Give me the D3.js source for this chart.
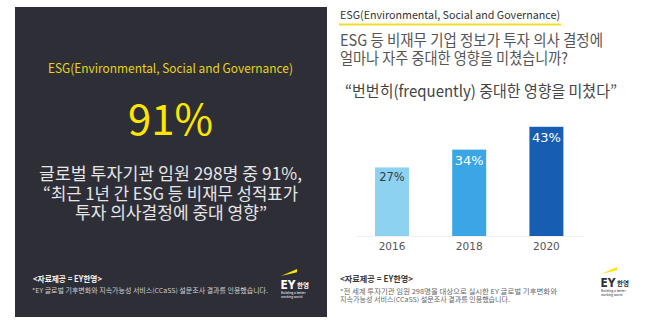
<!DOCTYPE html>
<html>
<head>
<meta charset="utf-8">
<script src="https://cdn.jsdelivr.net/npm/d3@7/dist/d3.min.js"></script>
<style>
  html, body { margin: 0; padding: 0; background: #ffffff; }
  svg { display: block; }
</style>
</head>
<body>
<svg id="chart" width="653" height="335"></svg>
<script>
// Survey data: share of investors saying non-financial (ESG) info "frequently" had a major impact
const years = ["2016", "2018", "2020"];
const shares = [27, 34, 43];
const barColors = ["#8dd2f1", "#3ba6e5", "#175db2"];
const labelColors = ["#3a3a44", "#ffffff", "#ffffff"];
const headline = 91;

const KR = "'Noto Sans CJK KR', 'Noto Sans', sans-serif";
const NUM = "'DejaVu Sans', Verdana, sans-serif";

const svg = d3.select("#chart");

// fit a text run to a set width
function fit(sel, w) {
  return sel.attr("textLength", w).attr("lengthAdjust", "spacingAndGlyphs");
}

// ---------- left panel: headline card ----------
const card = svg.append("g");
card.append("rect")
  .attr("x", 15).attr("y", 7).attr("width", 312).attr("height", 310)
  .attr("fill", "#2e2e37");

fit(card.append("text")
  .attr("x", 48).attr("y", 73)
  .attr("font-family", KR).attr("font-size", 12.5)
  .attr("fill", "#e8d31c")
  .text("ESG(Environmental, Social and Governance)"), 245);

fit(card.append("text")
  .attr("x", 128).attr("y", 135)
  .attr("font-family", KR).attr("font-size", 42)
  .attr("fill", "#ffe600")
  .text(headline + "%"), 85);

const bodyLines = [
  { t: "글로벌 투자기관 임원 298명 중 91%,", x: 39, w: 263 },
  { t: "“최근 1년 간 ESG 등 비재무 성적표가", x: 43, w: 255 },
  { t: "투자 의사결정에 중대 영향”", x: 75, w: 192 }
];
card.selectAll("text.body").data(bodyLines).join("text")
  .attr("class", "body")
  .attr("x", d => d.x)
  .attr("y", (d, i) => 180 + i * 19.5)
  .attr("font-family", KR).attr("font-size", 17)
  .attr("fill", "#e6e6e6")
  .attr("textLength", d => d.w).attr("lengthAdjust", "spacingAndGlyphs")
  .text(d => d.t);

fit(card.append("text")
  .attr("x", 33).attr("y", 282)
  .attr("font-family", KR).attr("font-size", 8.5).attr("font-weight", "bold")
  .attr("fill", "#f2f2f2")
  .text("<자료제공 = EY한영>"), 69);
fit(card.append("text")
  .attr("x", 32).attr("y", 292.5)
  .attr("font-family", KR).attr("font-size", 6.5)
  .attr("fill", "#d0d0d0")
  .text("*EY 글로벌 기후변화와 지속가능성 서비스(CCaSS) 설문조사 결과를 인용했습니다."), 236);

// EY logo mark
function eyLogo(g, x, y, ink) {
  g.append("path")
    .attr("d", `M${x} ${y + 7} L${x + 16} ${y} L${x + 16} ${y + 3.2} Z`)
    .attr("fill", "#ffe600");
  g.append("text")
    .attr("x", x - 0.5).attr("y", y + 19.5)
    .attr("font-family", "'DejaVu Sans', sans-serif").attr("font-weight", "bold")
    .attr("font-size", 12.5).attr("fill", ink)
    .attr("textLength", 15).attr("lengthAdjust", "spacingAndGlyphs")
    .text("EY");
  g.append("text")
    .attr("x", x + 16).attr("y", y + 18.5)
    .attr("font-family", KR).attr("font-weight", "bold")
    .attr("font-size", 6.5).attr("fill", ink)
    .text("한영");
  g.append("text")
    .attr("x", x).attr("y", y + 25)
    .attr("font-family", KR).attr("font-size", 3.2).attr("fill", ink)
    .text("Building a better");
  g.append("text")
    .attr("x", x).attr("y", y + 28.5)
    .attr("font-family", KR).attr("font-size", 3.2).attr("fill", ink)
    .text("working world");
}
eyLogo(card, 281, 269, "#ffffff");

// ---------- right panel: bar chart ----------
const right = svg.append("g");

fit(right.append("text")
  .attr("x", 340).attr("y", 19)
  .attr("font-family", KR).attr("font-size", 11)
  .attr("fill", "#333333")
  .text("ESG(Environmental, Social and Governance)"), 220);
right.append("line")
  .attr("x1", 339).attr("x2", 561).attr("y1", 24.5).attr("y2", 24.5)
  .attr("stroke", "#f2dd2a").attr("stroke-width", 2);

const question = [
  { t: "ESG 등 비재무 기업 정보가 투자 의사 결정에", w: 263 },
  { t: "얼마나 자주 중대한 영향을 미쳤습니까?", w: 228 }
];
right.selectAll("text.q").data(question).join("text")
  .attr("class", "q")
  .attr("x", 340)
  .attr("y", (d, i) => 45.5 + i * 18.5)
  .attr("font-family", KR).attr("font-size", 15.5)
  .attr("fill", "#555555")
  .attr("textLength", d => d.w).attr("lengthAdjust", "spacingAndGlyphs")
  .text(d => d.t);

fit(right.append("text")
  .attr("x", 345).attr("y", 97)
  .attr("font-family", KR).attr("font-size", 16)
  .attr("fill", "#444444")
  .text("“번번히(frequently) 중대한 영향을 미쳤다”"), 272);

const x = d3.scaleBand()
  .domain(years)
  .range([336.4, 602])
  .paddingInner(0.56)
  .paddingOuter(0.5);

const y = d3.scaleLinear()
  .domain([0, 50])
  .range([236, 109]);

// faint baseline
right.append("line")
  .attr("x1", 356).attr("x2", 584)
  .attr("y1", y(0) + 0.5).attr("y2", y(0) + 0.5)
  .attr("stroke", "#f0f0f0").attr("stroke-width", 1);

right.selectAll("rect.bar").data(shares).join("rect")
  .attr("class", "bar")
  .attr("x", (d, i) => x(years[i]))
  .attr("y", d => y(d))
  .attr("width", x.bandwidth())
  .attr("height", d => y(0) - y(d))
  .attr("fill", (d, i) => barColors[i]);

right.selectAll("text.val").data(shares).join("text")
  .attr("class", "val")
  .attr("x", (d, i) => x(years[i]) + x.bandwidth() / 2)
  .attr("y", (d, i) => y(d) + (i === 0 ? 14 : 15))
  .attr("text-anchor", "middle")
  .attr("font-family", NUM)
  .attr("font-size", (d, i) => i === 0 ? 11.5 : 13)
  .attr("fill", (d, i) => labelColors[i])
  .text(d => d + "%");

// category axis
const xAxis = right.append("g")
  .attr("transform", `translate(0,${y(0)})`)
  .call(d3.axisBottom(x).tickSize(0).tickPadding(7));
xAxis.select(".domain").remove();
xAxis.selectAll("text")
  .attr("font-family", NUM).attr("font-size", 10.5)
  .attr("fill", "#555555");

fit(right.append("text")
  .attr("x", 340).attr("y", 282)
  .attr("font-family", KR).attr("font-size", 8.5).attr("font-weight", "bold")
  .attr("fill", "#3a3a3a")
  .text("<자료제공 = EY한영>"), 73);
const notes = [
  { t: "*전 세계 투자기관 임원 298명을 대상으로 실시한 EY 글로벌 기후변화와", w: 217 },
  { t: "지속가능성 서비스(CCaSS) 설문조사 결과를 인용했습니다.", w: 170 }
];
right.selectAll("text.note").data(notes).join("text")
  .attr("class", "note")
  .attr("x", 340)
  .attr("y", (d, i) => 294 + i * 7.5)
  .attr("font-family", KR).attr("font-size", 6.5)
  .attr("fill", "#666666")
  .attr("textLength", d => d.w).attr("lengthAdjust", "spacingAndGlyphs")
  .text(d => d.t);

eyLogo(right, 601, 267, "#2e2e37");
</script>
</body>
</html>
